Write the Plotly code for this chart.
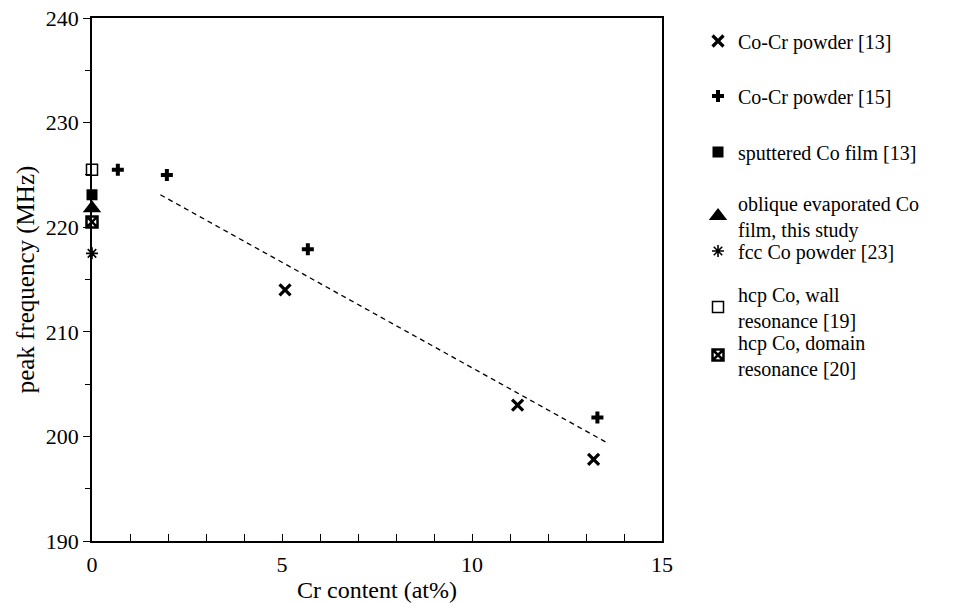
import plotly.graph_objects as go

# ---- data ----
cocr13_x = [5.08, 11.2, 13.2]
cocr13_y = [214.0, 203.0, 197.8]
cocr15_x = [0.68, 1.97, 5.68, 13.3]
cocr15_y = [225.5, 225.0, 217.9, 201.8]
sput_x = [0.0]
sput_y = [223.1]
obl_x = [0.0]
obl_y = [221.8]
fcc_x = [0.0]
fcc_y = [217.5]
hcpwall_x = [0.0]
hcpwall_y = [225.5]
hcpdom_x = [0.0]
hcpdom_y = [220.5]
fit_x = [1.8, 13.6]
fit_y = [223.1, 199.3]

names = [
    "Co-Cr powder [13]",
    "Co-Cr powder [15]",
    "sputtered Co film [13]",
    "oblique evaporated Co<br>film, this study",
    "fcc Co powder [23]",
    "hcp Co, wall<br>resonance [19]",
    "hcp Co, domain<br>resonance [20]",
]

FONT = "Liberation Serif, Times New Roman, serif"
W, H = 964, 603
L, R, T, B = 92, 302, 18, 62
pw, ph = W - L - R, H - T - B

fig = go.Figure()

fig.add_trace(go.Scatter(x=fit_x, y=fit_y, mode="lines",
                         line=dict(color="black", width=1.3, dash="5px,4px"),
                         showlegend=False, hoverinfo="skip"))

series = [
    (cocr13_x, cocr13_y, dict(symbol="x-thin-open", size=11, line=dict(width=3.2, color="black"), color="black")),
    (cocr15_x, cocr15_y, dict(symbol="cross", size=10, color="black", line=dict(width=0))),
    (sput_x, sput_y, dict(symbol="square", size=11, color="black", line=dict(width=0))),
    (obl_x, obl_y, dict(symbol="triangle-up", size=16, color="black", line=dict(width=0))),
    (fcc_x, fcc_y, dict(symbol="asterisk-open", size=10, line=dict(width=1.6, color="black"), color="black")),
    (hcpwall_x, hcpwall_y, dict(symbol="square-open", size=11, line=dict(width=1.5, color="black"), color="black")),
    (hcpdom_x, hcpdom_y, dict(symbol="square-x-open", size=11, line=dict(width=2.5, color="black"), color="black")),
]

# legend centre positions (pixels from top of page)
leg_py = [41, 96, 152, 216, 251, 307, 355]

layout_legends = {}
for i, ((xs, ys, mk), name, py) in enumerate(zip(series, names, leg_py)):
    key = "legend" if i == 0 else f"legend{i+1}"
    fig.add_trace(go.Scatter(x=xs, y=ys, mode="markers", marker=mk, name=name,
                             legend=key, cliponaxis=False))
    layout_legends[key] = dict(
        x=(698 - L) / pw, xanchor="left",
        y=1 - (py - T) / ph, yanchor="middle",
        font=dict(family=FONT, size=20, color="black"),
        bgcolor="rgba(0,0,0,0)", borderwidth=0,
        itemwidth=30, tracegroupgap=0,
    )

fig.update_layout(
    width=W, height=H,
    margin=dict(l=L, r=R, t=T, b=B, autoexpand=False),
    paper_bgcolor="white", plot_bgcolor="white",
    font=dict(family=FONT, size=21, color="black"),
    showlegend=True,
    **layout_legends,
)

fig.update_xaxes(
    range=[0, 15], tickmode="array", tickvals=[0, 5, 10, 15],
    ticks="inside", ticklen=7, tickwidth=1.2, tickcolor="black",
    minor=dict(dtick=1, ticks="inside", ticklen=7, tickwidth=1.2, tickcolor="black"),
    showline=True, linecolor="black", linewidth=1.5, mirror=True,
    showgrid=False, zeroline=False, automargin=False,
    ticklabelstandoff=3,
    tickfont=dict(family=FONT, size=22),
    title=dict(text="Cr content (at%)", font=dict(family=FONT, size=24), standoff=8),
)
fig.update_yaxes(
    range=[190, 240], tickmode="array", tickvals=[190, 200, 210, 220, 230, 240],
    ticks="outside", ticklen=7, tickwidth=1.2, tickcolor="black",
    minor=dict(dtick=5, ticks="outside", ticklen=5, tickwidth=1.2, tickcolor="black"),
    showline=True, linecolor="black", linewidth=1.5, mirror=True,
    showgrid=False, zeroline=False, automargin=False,
    tickfont=dict(family=FONT, size=22),
    title=dict(text="peak frequency (MHz)", font=dict(family=FONT, size=25), standoff=4),
)

fig.write_html("out.html")
